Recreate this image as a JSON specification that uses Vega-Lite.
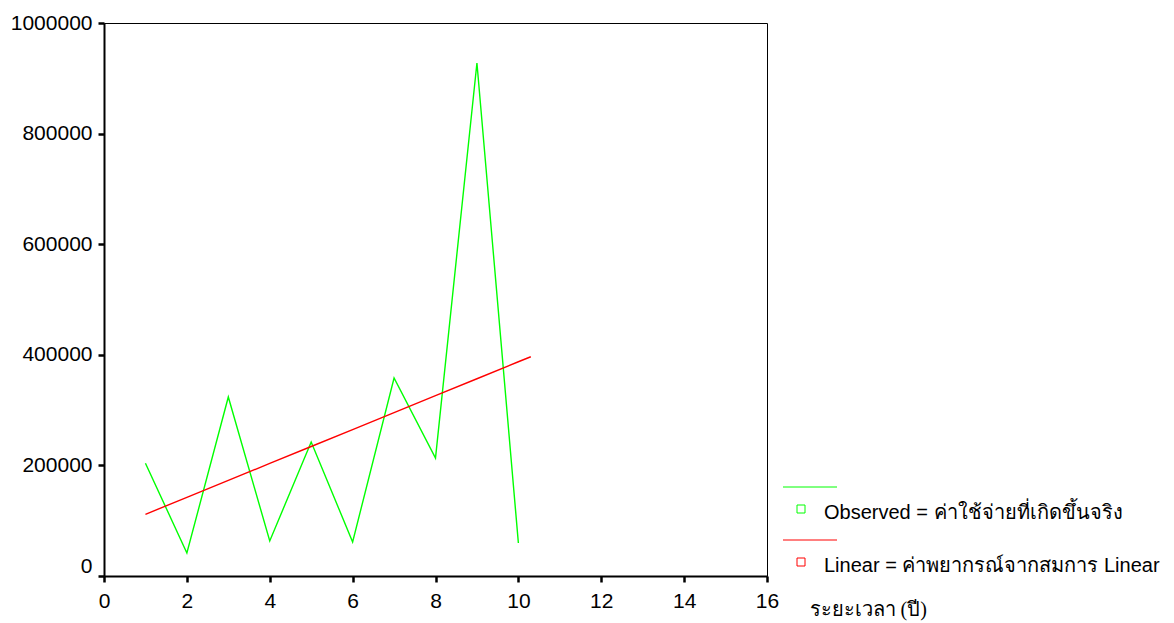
{
  "$schema": "https://vega.github.io/schema/vega-lite/v6.json",
  "width": 663,
  "height": 553,
  "autosize": {"type": "none"},
  "padding": {"left": 104, "top": 23, "right": 407, "bottom": 47},
  "background": "white",
  "config": {
    "view": {"stroke": "black", "strokeWidth": 1},
    "axis": {
      "grid": false,
      "domainColor": "black",
      "domainWidth": 2,
      "tickColor": "black",
      "tickWidth": 2.5,
      "tickSize": 6,
      "labelFont": "Liberation Sans",
      "labelFontSize": 21,
      "labelColor": "black",
      "labelFlush": false,
      "labelOverlap": false
    }
  },
  "data": {
    "values": [
      {"x": 1, "y": 204000, "series": "Observed"},
      {"x": 2, "y": 41600, "series": "Observed"},
      {"x": 3, "y": 323700, "series": "Observed"},
      {"x": 4, "y": 63300, "series": "Observed"},
      {"x": 5, "y": 242300, "series": "Observed"},
      {"x": 6, "y": 61500, "series": "Observed"},
      {"x": 7, "y": 358000, "series": "Observed"},
      {"x": 8, "y": 213400, "series": "Observed"},
      {"x": 9, "y": 927700, "series": "Observed"},
      {"x": 10, "y": 59700, "series": "Observed"},
      {"x": 1, "y": 111600, "series": "Linear"},
      {"x": 2, "y": 142200, "series": "Linear"},
      {"x": 3, "y": 172900, "series": "Linear"},
      {"x": 4, "y": 203500, "series": "Linear"},
      {"x": 5, "y": 234200, "series": "Linear"},
      {"x": 6, "y": 264800, "series": "Linear"},
      {"x": 7, "y": 295400, "series": "Linear"},
      {"x": 8, "y": 326100, "series": "Linear"},
      {"x": 9, "y": 356700, "series": "Linear"},
      {"x": 10, "y": 387400, "series": "Linear"},
      {"x": 10.3, "y": 396500, "series": "Linear"}
    ]
  },
  "mark": {"type": "line", "strokeWidth": 1.4, "interpolate": "linear"},
  "encoding": {
    "x": {
      "field": "x",
      "type": "quantitative",
      "scale": {"domain": [0, 16], "nice": false, "zero": false},
      "axis": {
        "values": [0, 2, 4, 6, 8, 10, 12, 14, 16],
        "labelPadding": 8,
        "title": "ระยะเวลา (ปี)",
        "titleX": 705,
        "titleY": 33,
        "titleAlign": "left",
        "titleBaseline": "middle",
        "titleFont": "Liberation Serif",
        "titleFontSize": 20,
        "titleFontWeight": "normal",
        "titleColor": "black"
      }
    },
    "y": {
      "field": "y",
      "type": "quantitative",
      "scale": {"domain": [0, 1000000], "nice": false},
      "axis": {
        "values": [0, 200000, 400000, 600000, 800000, 1000000],
        "format": "d",
        "title": null,
        "labelPadding": 6,
        "labelOffset": {"condition": {"test": "datum.value === 0", "value": -10}, "value": 0}
      }
    },
    "color": {
      "field": "series",
      "type": "nominal",
      "sort": ["Observed", "Linear"],
      "scale": {"domain": ["Observed", "Linear"], "range": ["#00ff00", "#ff0000"]},
      "legend": {
        "orient": "none",
        "legendX": 687,
        "legendY": 476,
        "title": null,
        "padding": 0,
        "direction": "vertical",
        "symbolType": "M-1,-1H1V1H-1Z M-4.5,-5.5H9",
        "symbolSize": 64,
        "symbolStrokeWidth": 1,
        "labelFont": "Liberation Sans",
        "labelFontSize": 20,
        "labelColor": "black",
        "labelOffset": 13,
        "labelLimit": 0,
        "rowPadding": 15,
        "labelExpr": "datum.label === 'Observed' ? 'Observed = ค่าใช้จ่ายที่เกิดขึ้นจริง' : 'Linear = ค่าพยากรณ์จากสมการ Linear'",
        "encode": {
          "symbols": {"update": {"fill": {"value": "transparent"}, "strokeWidth": {"value": 1}}},
          "labels": {"update": {"dy": {"value": 4}}}
        }
      }
    }
  }
}
